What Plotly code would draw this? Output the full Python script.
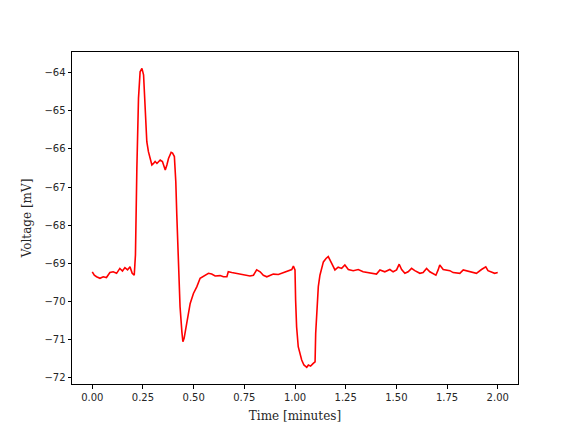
import plotly.graph_objects as go

time_min = [0.000, 0.010, 0.021, 0.038, 0.054, 0.070, 0.087, 0.103, 0.120, 0.136,
            0.149, 0.161, 0.174, 0.186, 0.197, 0.207, 0.210, 0.213, 0.220, 0.228,
            0.236, 0.245, 0.253, 0.258, 0.264, 0.269, 0.277, 0.286, 0.294, 0.302,
            0.310, 0.319, 0.335, 0.346, 0.360, 0.368, 0.376, 0.389, 0.396, 0.405,
            0.412, 0.417, 0.425, 0.433, 0.442, 0.447, 0.453, 0.467, 0.483, 0.499,
            0.516, 0.532, 0.548, 0.573, 0.589, 0.606, 0.631, 0.647, 0.664, 0.671,
            0.688, 0.713, 0.737, 0.762, 0.778, 0.795, 0.811, 0.828, 0.844, 0.861,
            0.877, 0.893, 0.918, 0.934, 0.951, 0.967, 0.984, 0.992, 1.000, 1.003,
            1.008, 1.016, 1.025, 1.033, 1.044, 1.058, 1.066, 1.077, 1.090, 1.099,
            1.102, 1.107, 1.115, 1.123, 1.132, 1.140, 1.153, 1.164, 1.181, 1.197,
            1.213, 1.230, 1.246, 1.263, 1.287, 1.312, 1.336, 1.361, 1.386, 1.402,
            1.419, 1.443, 1.468, 1.484, 1.501, 1.514, 1.526, 1.542, 1.558, 1.575,
            1.591, 1.616, 1.632, 1.649, 1.665, 1.681, 1.695, 1.706, 1.714, 1.731,
            1.747, 1.764, 1.780, 1.797, 1.813, 1.830, 1.846, 1.862, 1.878, 1.895,
            1.920, 1.941, 1.952, 1.969, 1.985, 2.000]

voltage_mv = [-69.23, -69.32, -69.36, -69.40, -69.36, -69.38, -69.25, -69.23, -69.27, -69.14,
              -69.21, -69.12, -69.18, -69.10, -69.27, -69.32, -69.05, -68.79, -66.50, -64.67,
              -63.97, -63.88, -64.05, -64.67, -65.28, -65.81, -66.07, -66.29, -66.42, -66.38,
              -66.33, -66.38, -66.29, -66.33, -66.55, -66.42, -66.25, -66.09, -66.11, -66.20,
              -66.86, -67.74, -68.79, -70.15, -70.81, -71.07, -70.98, -70.50, -70.06, -69.80,
              -69.62, -69.40, -69.34, -69.27, -69.29, -69.34, -69.33, -69.36, -69.36, -69.23,
              -69.25, -69.27, -69.29, -69.32, -69.34, -69.32, -69.18, -69.23, -69.32, -69.36,
              -69.32, -69.29, -69.30, -69.27, -69.23, -69.21, -69.17, -69.08, -69.18, -69.97,
              -70.68, -71.20, -71.38, -71.55, -71.68, -71.74, -71.68, -71.71, -71.64, -71.60,
              -70.85, -70.24, -69.62, -69.32, -69.10, -68.97, -68.88, -68.83, -69.01, -69.18,
              -69.11, -69.14, -69.05, -69.17, -69.20, -69.17, -69.23, -69.25, -69.27, -69.29,
              -69.18, -69.23, -69.17, -69.23, -69.18, -69.03, -69.17, -69.27, -69.23, -69.14,
              -69.20, -69.27, -69.25, -69.14, -69.23, -69.27, -69.32, -69.18, -69.05, -69.17,
              -69.18, -69.20, -69.25, -69.27, -69.27, -69.18, -69.20, -69.23, -69.25, -69.27,
              -69.17, -69.10, -69.20, -69.23, -69.27, -69.25]

x_ticks = [0.0, 0.25, 0.5, 0.75, 1.0, 1.25, 1.5, 1.75, 2.0]
x_tick_labels = ["0.00", "0.25", "0.50", "0.75", "1.00", "1.25", "1.50", "1.75", "2.00"]
y_ticks = [-72, -71, -70, -69, -68, -67, -66, -65, -64]
y_tick_labels = ["\u221272", "\u221271", "\u221270", "\u221269", "\u221268",
                 "\u221267", "\u221266", "\u221265", "\u221264"]

fig = go.Figure()
fig.add_trace(go.Scatter(x=time_min, y=voltage_mv, mode="lines",
                         line=dict(color="red", width=1.6), showlegend=False))

axis_common = dict(showgrid=False, zeroline=False, showline=True, linecolor="black",
                   linewidth=1, mirror=True, ticks="outside", ticklen=3.5,
                   tickwidth=1, tickcolor="black", automargin=False,
                   tickfont=dict(family="DejaVu Sans", size=10, color="#262626"))

title_font = dict(family="DejaVu Serif, Liberation Serif, serif", size=12, color="#262626")

fig.update_layout(
    width=576, height=432,
    margin=dict(l=72, r=58, t=52, b=48),
    paper_bgcolor="white", plot_bgcolor="white",
    xaxis=dict(range=[-0.1, 2.1], tickvals=x_ticks, ticktext=x_tick_labels,
               title=dict(text="Time [minutes]", standoff=10, font=title_font),
               **axis_common),
    yaxis=dict(range=[-72.18, -63.45], tickvals=y_ticks, ticktext=y_tick_labels,
               title=dict(text="Voltage [mV]", standoff=10, font=title_font),
               **axis_common),
)

fig.write_html("out.html", config={"displayModeBar": False},
               post_script="document.body.style.margin='0';")
